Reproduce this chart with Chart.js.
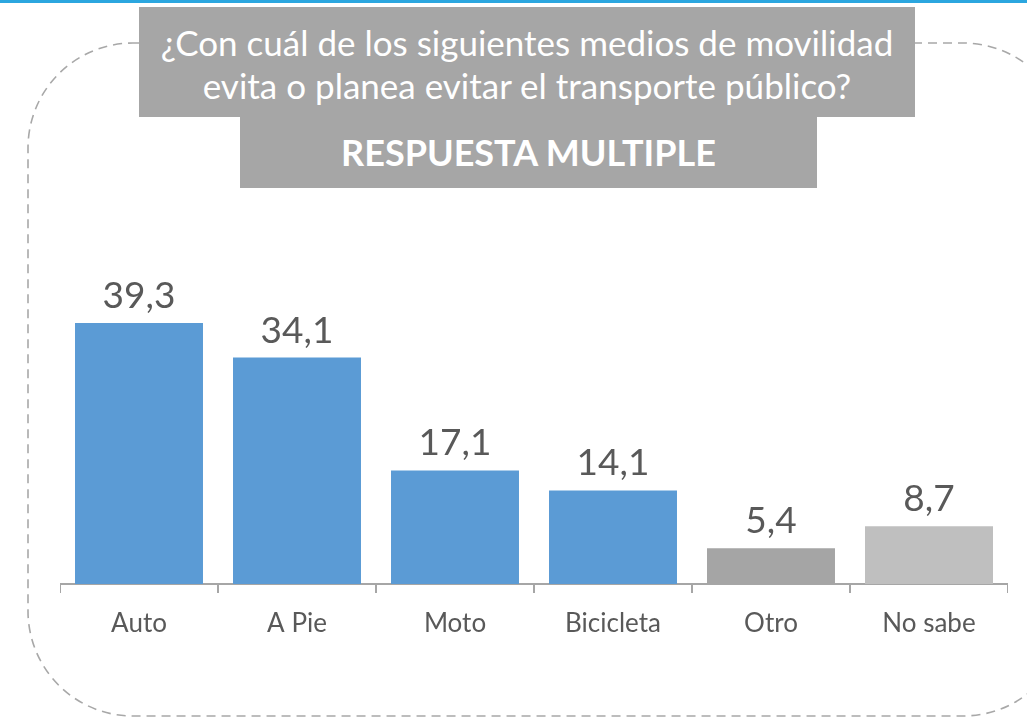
<!DOCTYPE html>
<html lang="es">
<head>
    <meta charset="UTF-8">
    <title>Medios de movilidad</title>
    <script src="https://cdn.jsdelivr.net/npm/chart.js"></script>
    <style>
        body { margin: 0; width: 1027px; height: 719px; background: #ffffff; position: relative; overflow: hidden; font-family: Lato, 'Noto Sans', Arial, sans-serif; }
        .topline { position: absolute; left: 0; top: 0; width: 1027px; height: 3px; background: #2ba6df; }
        .frame { position: absolute; left: 0; top: 0; }
        .title1 { position: absolute; left: 139px; top: 7px; width: 776px; height: 110px; background: #a6a6a6; color: #fff; text-align: center; font-size: 35px; line-height: 43px; padding-top: 14px; box-sizing: border-box; white-space: nowrap; }
        .title2 { position: absolute; left: 240px; top: 117px; width: 577px; height: 71px; background: #a6a6a6; color: #fff; text-align: center; font-size: 36px; font-weight: bold; line-height: 71px; }
        .chart-box { position: absolute; left: 60px; top: 252px; width: 948px; height: 412px; }
    </style>
</head>
<body>
    <div class="topline"></div>
    <svg class="frame" width="1027" height="719">
        <rect x="28" y="43" width="1040" height="673" rx="105" ry="105" fill="none" stroke="#a8a8a8" stroke-width="1.6" stroke-dasharray="9 6"/>
    </svg>
    <div class="title1">¿Con cuál de los siguientes medios de movilidad<br>evita o planea evitar el transporte público?</div>
    <div class="title2">RESPUESTA MULTIPLE</div>
    <div class="chart-box">
        <canvas id="chart"></canvas>
    </div>
    <script>
        const categories = ['Auto', 'A Pie', 'Moto', 'Bicicleta', 'Otro', 'No sabe'];
        const values = [39.3, 34.1, 17.1, 14.1, 5.4, 8.7];
        const barColors = ['#5b9bd5', '#5b9bd5', '#5b9bd5', '#5b9bd5', '#a5a5a5', '#bfbfbf'];

        // etiquetas de valor encima de cada barra, con coma decimal
        const valueLabels = {
            id: 'valueLabels',
            afterDatasetsDraw(chart) {
                const ctx = chart.ctx;
                const meta = chart.getDatasetMeta(0);
                ctx.save();
                ctx.font = '37px Lato, sans-serif';
                ctx.fillStyle = '#595959';
                ctx.textAlign = 'center';
                ctx.textBaseline = 'alphabetic';
                meta.data.forEach((bar, i) => {
                    ctx.fillText(values[i].toFixed(1).replace('.', ','), bar.x, bar.y - 15);
                });
                ctx.restore();
            }
        };

        new Chart(document.getElementById('chart'), {
            type: 'bar',
            data: {
                labels: categories,
                datasets: [{
                    data: values,
                    backgroundColor: barColors,
                    barPercentage: 0.81,
                    categoryPercentage: 1.0
                }]
            },
            options: {
                responsive: true,
                maintainAspectRatio: false,
                animation: false,
                layout: { padding: 0 },
                plugins: { legend: { display: false }, tooltip: { enabled: false } },
                scales: {
                    y: { display: false, min: 0, max: 50 },
                    x: {
                        offset: true,
                        border: { display: true, color: '#a6a6a6', width: 2 },
                        grid: { offset: true, drawOnChartArea: false, drawTicks: true, tickLength: 9, color: '#a6a6a6', lineWidth: 2 },
                        ticks: { color: '#595959', font: { family: 'Lato', size: 26 }, padding: 15 },
                        afterFit(scale) { scale.height = 80; }
                    }
                }
            },
            plugins: [valueLabels]
        });
    </script>
</body>
</html>
